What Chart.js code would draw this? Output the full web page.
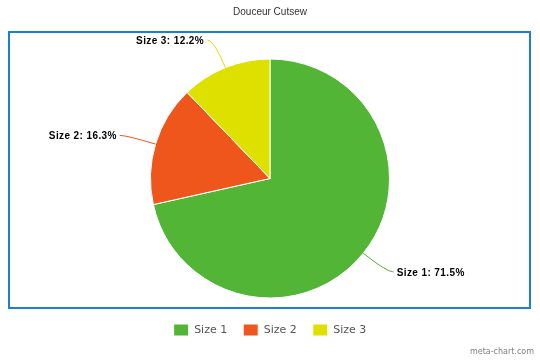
<!DOCTYPE html>
<html>
<head>
<meta charset="utf-8">
<script src="https://cdn.jsdelivr.net/npm/chart.js@4/dist/chart.umd.min.js"></script>
<style>
  html, body { margin: 0; padding: 0; background: #ffffff; }
  #wrap { width: 540px; height: 360px; position: relative; }
</style>
</head>
<body>
<div id="wrap"><canvas id="c" width="540" height="360"></canvas></div>
<script>
const chartTitle = "Douceur Cutsew";
const categories = ["Size 1", "Size 2", "Size 3"];
const values = [71.5, 16.3, 12.2];
const colors = ["#52b536", "#ee561c", "#dee000"];
const watermark = "meta-chart.com";

const framePlugin = {
  id: 'frame',
  beforeDraw(chart) {
    const ctx = chart.ctx;
    ctx.save();
    ctx.fillStyle = '#ffffff';
    ctx.fillRect(0, 0, chart.width, chart.height);
    ctx.strokeStyle = '#1b7fd4';
    ctx.lineWidth = 2;
    ctx.strokeRect(9, 32, chart.width - 19, 276);
    ctx.restore();
  },
  afterDraw(chart) {
    const ctx = chart.ctx;
    ctx.save();
    ctx.fillStyle = '#808080';
    ctx.font = '8px "DejaVu Sans", sans-serif';
    ctx.textAlign = 'right';
    ctx.textBaseline = 'middle';
    ctx.fillText(watermark, chart.width - 6, chart.height - 8);
    ctx.restore();
  }
};

const labelPlugin = {
  id: 'sliceLabels',
  afterDatasetsDraw(chart) {
    const ctx = chart.ctx;
    const meta = chart.getDatasetMeta(0);
    const ds = chart.data.datasets[0];
    const total = ds.data.reduce((a, b) => a + b, 0);
    ctx.save();
    meta.data.forEach((arc, i) => {
      const p = arc.getProps(['x', 'y', 'startAngle', 'endAngle', 'outerRadius'], true);
      const mid = (p.startAngle + p.endAngle) / 2;
      const cos = Math.cos(mid), sin = Math.sin(mid);
      const r0 = p.outerRadius;
      const r1 = p.outerRadius + 30;
      const x0 = p.x + r0 * cos, y0 = p.y + r0 * sin;
      const x1 = p.x + r1 * cos, y1 = p.y + r1 * sin;
      const dir = cos >= 0 ? 1 : -1;
      const x2 = x1 + dir * 7;
      ctx.strokeStyle = ds.backgroundColor[i];
      ctx.lineWidth = 1;
      ctx.beginPath();
      ctx.moveTo(x0, y0);
      ctx.quadraticCurveTo(x1, y1, x2, y1);
      ctx.stroke();
      const pct = (ds.data[i] / total * 100).toFixed(1);
      ctx.fillStyle = '#000000';
      ctx.font = 'bold 10px "Liberation Sans", Arial, sans-serif';
      if ('letterSpacing' in ctx) ctx.letterSpacing = '0.4px';
      ctx.textAlign = dir > 0 ? 'left' : 'right';
      ctx.textBaseline = 'middle';
      ctx.fillText(chart.data.labels[i] + ': ' + pct + '%', x2 + dir * 3, y1 + 1);
    });
    ctx.restore();
  }
};

new Chart(document.getElementById('c'), {
  type: 'pie',
  data: {
    labels: categories,
    datasets: [{
      data: values,
      backgroundColor: colors,
      borderColor: '#ffffff',
      borderWidth: 1,
      hoverOffset: 0
    }]
  },
  options: {
    responsive: false,
    animation: false,
    radius: 119.5,
    layout: { padding: { top: 0, bottom: 14, left: 0, right: 0 } },
    plugins: {
      title: {
        display: true,
        text: chartTitle,
        color: '#333333',
        font: { family: '"Liberation Sans", Arial, sans-serif', size: 10, weight: 'normal' },
        padding: { top: 6, bottom: 31 }
      },
      legend: {
        display: true,
        position: 'bottom',
        labels: {
          boxWidth: 15,
          boxHeight: 12,
          padding: 16,
          color: '#555555',
          font: { family: '"DejaVu Sans", sans-serif', size: 11 }
        }
      },
      tooltip: { enabled: false }
    }
  },
  plugins: [framePlugin, labelPlugin]
});
</script>
</body>
</html>
